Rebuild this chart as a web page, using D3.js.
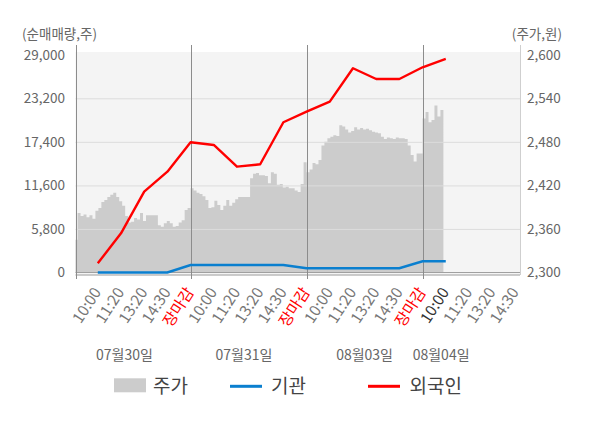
<!DOCTYPE html>
<html><head><meta charset="utf-8">
<script src="https://cdn.jsdelivr.net/npm/d3@7"></script>
<style>
body{margin:0;background:#fff;}
text{font-family:"Noto Sans CJK KR","Noto Sans",sans-serif;}
</style>
</head><body>
<svg id="c" width="600" height="428"></svg>
<script>
// ---------- data ----------
const timeLabels = ["10:00","11:20","13:20","14:30","장마감"];
const dates = ["07월30일","07월31일","08월03일","08월04일"];
const leftTicks = [0,5800,11600,17400,23200,29000];
const rightTicks = [2300,2360,2420,2480,2540,2600];
const seriesNames = ["주가","기관","외국인"];
// net buying (shares) at each label slot
const foreign = [1225,5221,10763,13427,17343,16983,14093,14412,20007,21419,22751,27199,25774,25774,27333,28438];
const institution = [0,0,0,0,1000,1000,1000,1000,1000,560,560,560,560,560,1490,1490];
// stock price samples per trading day
const priceDay1 = [2345,2382,2378,2380,2376,2379,2374,2385,2389,2397,2400,2404,2407,2410,2404,2398,2392,2378,2369,2370,2375,2373,2382,2371,2379,2379,2379,2379,2365,2363,2368,2371,2368,2363,2364,2369,2372,2386,2389];
const priceDay2 = [2416,2413,2410,2408,2405,2400,2389,2390,2399,2393,2386,2392,2400,2392,2396,2401,2404,2404,2404,2404,2430,2436,2437,2434,2434,2433,2423,2438,2436,2421,2422,2417,2418,2416,2416,2413,2411,2422,2452];
const priceDay3 = [2438,2442,2451,2449,2455,2475,2480,2485,2487,2489,2488,2503,2501,2497,2493,2495,2500,2497,2499,2497,2498,2496,2494,2493,2492,2487,2484,2486,2485,2484,2486,2485,2485,2484,2475,2462,2453,2464,2464];
const priceDay4 = [2512,2521,2507,2510,2530,2515,2524];
const priceDays = [priceDay1,priceDay2,priceDay3,priceDay4];

// ---------- layout ----------
const plot={left:75.5,right:520,top:52,bottom:274.5};
const slotsPerDay=timeLabels.length;
const samplesPerDay=39;
const svg=d3.select("#c");

// slot index: 0 = first 10:00; day d starts at slot 5d-1
const x=d3.scaleLinear().domain([-1,18.2]).range([74.6,520]);
const yL=d3.scaleLinear().domain([0,29000]).range([272.5,54.75]);
const yR=d3.scaleLinear().domain([2300,2600]).range([272.5,54.75]);

// background
svg.append("rect").attr("x",plot.left).attr("y",plot.top)
  .attr("width",plot.right-plot.left).attr("height",plot.bottom-plot.top)
  .attr("fill","#f4f4f4");

// price area
const pricePts=[];
priceDays.forEach((arr,d)=>{
  arr.forEach((p,k)=>pricePts.push({s:d*slotsPerDay-1+k*slotsPerDay/samplesPerDay,p}));
});
const lastDay=priceDays.length-1;
pricePts.push({s:lastDay*slotsPerDay-1+priceDays[lastDay].length*slotsPerDay/samplesPerDay,p:priceDays[lastDay][priceDays[lastDay].length-1]});
svg.append("path").datum(pricePts)
  .attr("d",d3.area().curve(d3.curveStepAfter)
    .x(d=>Math.max(plot.left,x(d.s))).y0(yR(2300)).y1(d=>yR(d.p)))
  .attr("fill","#cccccc");

// gridlines
svg.append("g").selectAll("line").data(leftTicks.filter(t=>t>0&&t<29000)).join("line")
  .attr("x1",plot.left).attr("x2",plot.right)
  .attr("y1",d=>yL(d)+0.5).attr("y2",d=>yL(d)+0.5)
  .attr("stroke","#dcdcdc").attr("stroke-width",1);
svg.append("line").attr("x1",plot.left).attr("x2",plot.right)
  .attr("y1",yL(0)).attr("y2",yL(0)).attr("stroke","#a0a0a0").attr("stroke-width",1);
svg.append("line").attr("x1",plot.left).attr("x2",plot.right)
  .attr("y1",plot.bottom+0.5).attr("y2",plot.bottom+0.5).attr("stroke","#999").attr("stroke-width",1);

// day separators
const dayBounds=d3.range(1,dates.length).map(d=>d*slotsPerDay-1);
svg.append("g").selectAll("line").data(dayBounds).join("line")
  .attr("x1",d=>Math.round(x(d))+0.5).attr("x2",d=>Math.round(x(d))+0.5)
  .attr("y1",45).attr("y2",279).attr("stroke","#8c8c8c").attr("stroke-width",1);

// axes lines
svg.append("line").attr("x1",76.5).attr("x2",76.5).attr("y1",45).attr("y2",279)
  .attr("stroke","#8c8c8c");
svg.append("line").attr("x1",520.5).attr("x2",520.5).attr("y1",45).attr("y2",275)
  .attr("stroke","#cfcfcf");

// lines
const idx=d3.range(foreign.length);
svg.append("path").datum(idx)
  .attr("d",d3.line().x(i=>x(i)).y(i=>yL(institution[i])))
  .attr("fill","none").attr("stroke","#0a7fcf").attr("stroke-width",2.6);
svg.append("path").datum(idx)
  .attr("d",d3.line().x(i=>x(i)).y(i=>yL(foreign[i])))
  .attr("fill","none").attr("stroke","#ff0000").attr("stroke-width",2.4).attr("stroke-linejoin","round");

// y-axis labels
svg.append("g").selectAll("text").data(leftTicks).join("text")
  .attr("x",65).attr("y",d=>yL(d)).attr("dy","0.36em")
  .attr("text-anchor","end").attr("font-size",13.5).attr("fill","#666")
  .text(d=>d3.format(",")(d));
svg.append("g").selectAll("text").data(rightTicks).join("text")
  .attr("x",527).attr("y",d=>yR(d)).attr("dy","0.36em")
  .attr("text-anchor","start").attr("font-size",13.5).attr("fill","#666")
  .text(d=>d3.format(",")(d));
svg.append("text").attr("x",22).attr("y",38.5).attr("font-size",13.5).attr("fill","#666").text("(순매매량,주)");
svg.append("text").attr("x",562).attr("y",38.5).attr("text-anchor","end").attr("font-size",13.5).attr("fill","#666").text("(주가,원)");

// x labels
const xl=[];
for(let s=0;s<=18;s++){
  const k=(s+1)%slotsPerDay;
  const lbl=timeLabels[(k+slotsPerDay-1)%slotsPerDay];
  xl.push({s,lbl});
}
const currentSlot=foreign.length-1;
svg.append("g").selectAll("text").data(xl).join("text")
  .attr("transform",d=>`translate(${x(d.s)+4},292) rotate(-57)`)
  .attr("text-anchor","end").attr("font-size",15.5)
  .attr("fill",d=>d.lbl==="장마감"?"#ff0000":(d.s===currentSlot?"#333":"#777"))
  .text(d=>d.lbl);

// date labels
const datePos=[1.15,6.3,11.5,14.8];
svg.append("g").selectAll("text").data(dates).join("text")
  .attr("x",(d,i)=>x(datePos[i])).attr("y",360)
  .attr("text-anchor","middle").attr("font-size",14).attr("fill","#666")
  .text(d=>d);

// legend
const lg=svg.append("g");
lg.append("rect").attr("x",114).attr("y",378.3).attr("width",32).attr("height",14).attr("fill","#cccccc");
lg.append("text").attr("x",153).attr("y",393).attr("font-size",19).attr("fill","#444").text(seriesNames[0]);
lg.append("line").attr("x1",230).attr("x2",262).attr("y1",386.3).attr("y2",386.3).attr("stroke","#0a7fcf").attr("stroke-width",3);
lg.append("text").attr("x",271).attr("y",393).attr("font-size",19).attr("fill","#444").text(seriesNames[1]);
lg.append("line").attr("x1",368).attr("x2",400).attr("y1",386.3).attr("y2",386.3).attr("stroke","#ff0000").attr("stroke-width",3);
lg.append("text").attr("x",409.5).attr("y",393).attr("font-size",19).attr("fill","#444").text(seriesNames[2]);
</script>
</body></html>
